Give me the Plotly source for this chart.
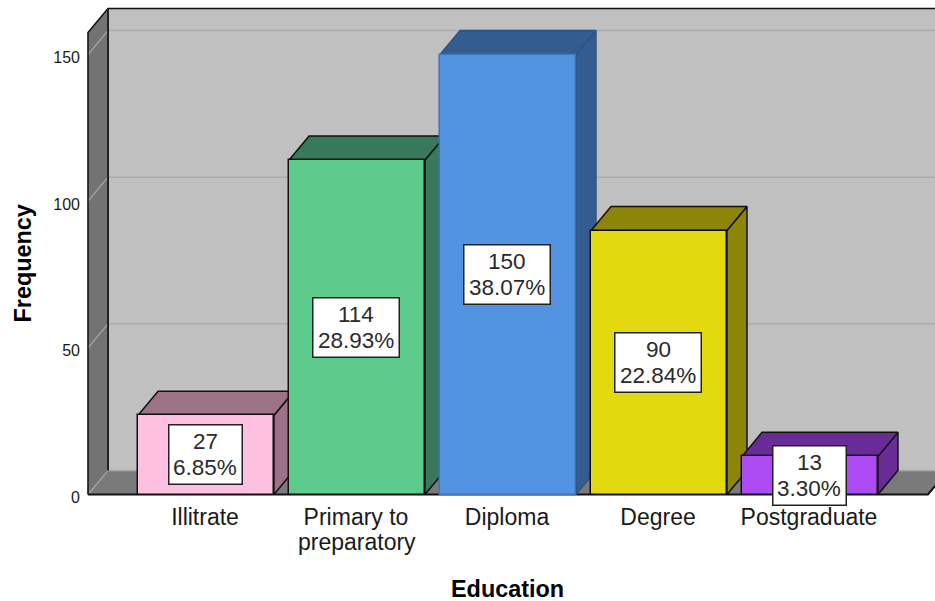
import plotly.graph_objects as go

categories = ["Illitrate", "Primary to", "Diploma", "Degree", "Postgraduate"]
category_second_lines = ["", "preparatory", "", "", ""]
frequencies = [27, 114, 150, 90, 13]
percent_labels = ["6.85%", "28.93%", "38.07%", "22.84%", "3.30%"]
y_ticks = [0, 50, 100, 150]
front_colors = ["#FFBFDF", "#5CCB8B", "#5294E2", "#E3D90F", "#AC4AF3"]
shade_colors = ["#9C7386", "#37795A", "#335D90", "#8C8507", "#692B96"]
front_edges = ["#111111", "#111111", "#3F74B8", "#111111", "#111111"]
shade_edges = ["#111111", "#111111", "#2F5480", "#111111", "#111111"]

# Chart box in data units; the depth vector gives the oblique 3D look.
X_LEFT, X_RIGHT = -0.7815, 4.781
Y_TOP = 157.5
DEPTH_X, DEPTH_Y = 0.1325, 8.18
BAR_WIDTH = 0.9
FONT = "Liberation Sans"
INK = "#1a1a1a"
EDGE = "#111111"

fig = go.Figure()


def polygon(xs, ys, fill, line_color=EDGE, line_width=1.5):
    fig.add_trace(go.Scatter(
        x=xs + xs[:1], y=ys + ys[:1], mode="lines", fill="toself", fillcolor=fill,
        line=dict(color=line_color, width=line_width), hoverinfo="skip", showlegend=False,
    ))


def polyline(xs, ys, color, width=1.5):
    fig.add_trace(go.Scatter(
        x=xs, y=ys, mode="lines", line=dict(color=color, width=width),
        hoverinfo="skip", showlegend=False,
    ))


# Back wall, floor and left wall of the box, filled first and outlined afterwards
polygon([X_LEFT + DEPTH_X, X_RIGHT + DEPTH_X, X_RIGHT + DEPTH_X, X_LEFT + DEPTH_X],
        [DEPTH_Y, DEPTH_Y, Y_TOP + DEPTH_Y, Y_TOP + DEPTH_Y], "#C0C0C0", "#C0C0C0", 0.5)
polygon([X_LEFT, X_RIGHT, X_RIGHT + DEPTH_X, X_LEFT + DEPTH_X],
        [0, 0, DEPTH_Y, DEPTH_Y], "#7A7A7A", "#7A7A7A", 0.5)
polygon([X_LEFT, X_LEFT, X_LEFT + DEPTH_X, X_LEFT + DEPTH_X],
        [0, Y_TOP, Y_TOP + DEPTH_Y, DEPTH_Y], "#737373", "#737373", 0.5)

# Gridlines run across the left wall and then along the back wall
for tick in y_ticks:
    polyline([X_LEFT, X_LEFT + DEPTH_X], [tick, tick + DEPTH_Y], "#A8A8A8", 1.2)
    polyline([X_LEFT + DEPTH_X, X_RIGHT + DEPTH_X], [tick + DEPTH_Y, tick + DEPTH_Y],
             "#ABABAB", 1.5)

# Box outline
polyline([X_LEFT, X_LEFT, X_LEFT + DEPTH_X, X_RIGHT + DEPTH_X],
         [0, Y_TOP, Y_TOP + DEPTH_Y, Y_TOP + DEPTH_Y], EDGE)
polyline([X_LEFT + DEPTH_X, X_LEFT + DEPTH_X], [DEPTH_Y, Y_TOP + DEPTH_Y], "#222222", 2)
polyline([X_LEFT, X_RIGHT, X_RIGHT + DEPTH_X], [0, 0, DEPTH_Y], EDGE, 2)

# Top and side faces of each bar
positions = list(range(len(categories)))
half = BAR_WIDTH / 2
for pos, value, shade, edge in zip(positions, frequencies, shade_colors, shade_edges):
    polygon([pos + half, pos + half + DEPTH_X, pos + half + DEPTH_X, pos + half],
            [0, DEPTH_Y, value + DEPTH_Y, value], shade, edge)
    polygon([pos - half, pos + half, pos + half + DEPTH_X, pos - half + DEPTH_X],
            [value, value, value + DEPTH_Y, value + DEPTH_Y], shade, edge)

# Front faces sit on an overlaid pair of axes so they cover neighbouring side faces
fig.add_trace(go.Bar(
    x=positions, y=frequencies, width=BAR_WIDTH, xaxis="x2", yaxis="y2",
    marker=dict(color=front_colors, line=dict(color=front_edges, width=1.5)),
    hoverinfo="skip", showlegend=False,
))

# Value boxes centred on each bar
for pos, value, pct in zip(positions, frequencies, percent_labels):
    fig.add_annotation(x=pos, y=value / 2, xshift=-1, text=" ", showarrow=False,
                       width=85 if len(pct) == 6 else 72, height=58, borderpad=0,
                       bgcolor="white", bordercolor="#222222", borderwidth=1.5,
                       font=dict(size=10))
    fig.add_annotation(x=pos, y=value / 2, xshift=-1, yshift=13, text=str(value), showarrow=False,
                       font=dict(family=FONT, size=22.5, color="#2a2a2a"))
    fig.add_annotation(x=pos, y=value / 2, xshift=-1, yshift=-13, text=pct, showarrow=False,
                       font=dict(family=FONT, size=22.5, color="#2a2a2a"))

# Second line of a wrapped category label
for pos, line in zip(positions, category_second_lines):
    if line:
        fig.add_annotation(x=pos, y=0, yref="y", yshift=-47, text=line, showarrow=False,
                           font=dict(family=FONT, size=23, color=INK))

# Axis titles
fig.add_annotation(xref="paper", yref="paper", x=(507 - 86) / 849, y=(497 - 589) / 493,
                   xanchor="center", yanchor="middle",
                   text="<b>Education</b>", showarrow=False,
                   font=dict(family=FONT, size=23.4, color="#000000"))
fig.add_annotation(xref="paper", yref="paper", x=(22 - 86) / 849, y=(497 - 263.5) / 493,
                   xanchor="center", yanchor="middle",
                   text="<b>Frequency</b>", textangle=-90, showarrow=False,
                   font=dict(family=FONT, size=23.4, color="#000000"))

x_range = [(86 - 206) / 151, (935 - 206) / 151]
y_range = [-2.5 / 2.9333, 490.5 / 2.9333]

fig.update_layout(
    width=935, height=601, autosize=False,
    margin=dict(l=86, r=0, t=4, b=104),
    paper_bgcolor="white", plot_bgcolor="white",
    bargap=0, showlegend=False,
    font=dict(family=FONT, color=INK),
    xaxis=dict(range=x_range, tickmode="array", tickvals=positions, ticktext=categories,
               showgrid=False, zeroline=False, showline=False, ticks="",
               ticklabelstandoff=4, ticklabelshift=-1,
               tickfont=dict(family=FONT, size=23, color=INK), fixedrange=True),
    yaxis=dict(range=y_range, tickmode="array", tickvals=y_ticks,
               showgrid=False, zeroline=False, showline=False, ticks="",
               ticklabelstandoff=5, ticklabelshift=3,
               tickfont=dict(family=FONT, size=16, color=INK), fixedrange=True),
    xaxis2=dict(range=x_range, overlaying="x", visible=False, fixedrange=True),
    yaxis2=dict(range=y_range, overlaying="y", visible=False, fixedrange=True),
)

fig.write_html("out.html")
